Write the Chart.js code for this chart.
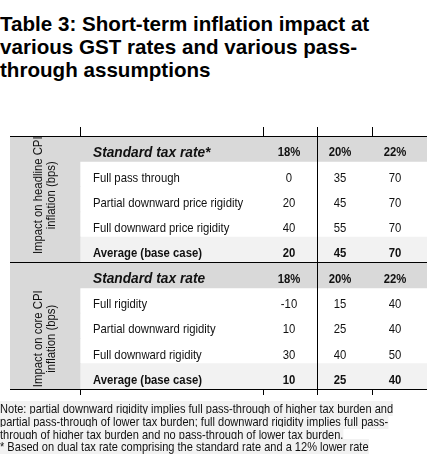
<!DOCTYPE html>
<html lang="en">
<head>
  <meta charset="UTF-8">
  <title>Table 3: Short-term inflation impact</title>
  <script src="https://cdn.jsdelivr.net/npm/chart.js"></script>
  <style>
    body { margin: 0; background: #fff; width: 427px; height: 468px; overflow: hidden; position: relative; }
    .titulo {
      position: absolute; left: 0; top: 12px;
      font: bold 20.6px 'Liberation Sans', Arial, sans-serif; line-height: 23px; color: #000;
    }
    .tabela { position: absolute; left: 0; top: 120px; width: 427px; height: 285px; }
    .nota {
      position: absolute; left: 0; top: 403px; white-space: nowrap;
      transform: scaleX(0.85); transform-origin: 0 0;
      font: 13px 'Liberation Sans', Arial, sans-serif; line-height: 12.8px; color: #111;
    }
    .nota span { background: #f2f2f2; }
  </style>
</head>
<body>
  <div class="titulo">Table 3: Short-term inflation impact at<br>various GST rates and various pass-<br>through assumptions</div>
  <div class="tabela"><canvas id="grafico"></canvas></div>
  <div class="nota"><span>Note: partial downward rigidity implies full pass-through of higher tax burden and<br>partial pass-through of lower tax burden; full downward rigidity implies full pass-<br>through of higher tax burden and no pass-through of lower tax burden.<br>* Based on dual tax rate comprising the standard rate and a 12% lower rate</span></div>

  <script>
    // dados da tabela
    const rates = ['18%', '20%', '22%'];
    const headlineRows = ['Full pass through', 'Partial downward price rigidity', 'Full downward price rigidity', 'Average (base case)'];
    const headlineValues = [[0, 35, 70], [20, 45, 70], [40, 55, 70], [20, 45, 70]];
    const coreRows = ['Full rigidity', 'Partial downward rigidity', 'Full downward rigidity', 'Average (base case)'];
    const coreValues = [[-10, 15, 40], [10, 25, 40], [30, 40, 50], [10, 25, 40]];
    const sectionHeads = ['Standard tax rate*', 'Standard tax rate'];
    const sectionTitles = [['Impact on headline CPI', 'inflation (bps)'], ['Impact on core CPI', 'inflation (bps)']];

    // layout (unidades do eixo x)
    const X_MAX = 417;
    const LABEL_COL = 70;
    const TEXT_X = 83;
    const COL_CENTERS = [279, 330, 385];
    const EDGES = [70, 253, 307, 362];
    const RULE_X = 307;
    const TITLE_SHIFT = [-4, 13];
    const FONT = "'Liberation Sans', Arial, sans-serif";
    const ESTREITO = 0.87; // imita Arial Narrow
    const CINZA = '#d9d9d9';
    const CLARO = '#f2f2f2';

    // monta as linhas: cabecalho, corpo, media
    const linhas = [];
    [[headlineRows, headlineValues], [coreRows, coreValues]].forEach(([nomes, valores], s) => {
      linhas.push({ label: sectionHeads[s], kind: 'head', cells: rates, sec: s });
      nomes.forEach((n, i) => {
        linhas.push({ label: n, kind: i === nomes.length - 1 ? 'avg' : 'body', cells: valores[i].map(String), sec: s });
      });
    });

    function escreve(ctx, txt, px, py, esc = ESTREITO) {
      ctx.save();
      ctx.translate(px, py);
      ctx.scale(esc, 1);
      ctx.fillText(txt, 0, 0);
      ctx.restore();
    }

    const textoCelulas = {
      id: 'textoCelulas',
      afterDraw(chart) {
        const { ctx, scales: { x, y } } = chart;
        ctx.save();
        ctx.fillStyle = '#111';
        ctx.textBaseline = 'middle';
        linhas.forEach((l, i) => {
          const py = y.getPixelForValue(i) + 4;
          const peso = l.kind === 'body' ? '' : 'bold ';
          ctx.textAlign = 'left';
          if (l.kind === 'head') {
            ctx.font = 'italic bold 14px ' + FONT;
            escreve(ctx, l.label, x.getPixelForValue(TEXT_X), py, 0.98);
          } else {
            ctx.font = peso + '13px ' + FONT;
            escreve(ctx, l.label, x.getPixelForValue(TEXT_X), py);
          }
          ctx.font = peso + '13px ' + FONT;
          ctx.textAlign = 'center';
          l.cells.forEach((c, j) => escreve(ctx, c, x.getPixelForValue(COL_CENTERS[j]), py));
        });
        // titulos verticais das secoes
        ctx.font = '13px ' + FONT;
        ctx.textAlign = 'center';
        sectionTitles.forEach((t, s) => {
          const idx = linhas.map((l, i) => l.sec === s ? i : -1).filter(i => i >= 0);
          const cy = (y.getPixelForValue(idx[0]) + y.getPixelForValue(idx[idx.length - 1])) / 2 + TITLE_SHIFT[s];
          const cx = x.getPixelForValue(LABEL_COL / 2);
          ctx.save();
          ctx.translate(cx, cy);
          ctx.rotate(-Math.PI / 2);
          escreve(ctx, t[0], 0, -6.5);
          escreve(ctx, t[1], 0, 6.5);
          ctx.restore();
        });
        ctx.restore();
      }
    };

    const ticksBordas = s => { s.ticks = EDGES.map(v => ({ value: v })); };

    new Chart(document.getElementById('grafico'), {
      type: 'bar',
      data: {
        labels: linhas.map(l => l.label),
        datasets: [
          { data: linhas.map(() => [0, LABEL_COL]), backgroundColor: CINZA },
          { data: linhas.map(l => l.kind === 'head' ? [0, X_MAX] : null), backgroundColor: CINZA },
          { data: linhas.map(l => l.kind === 'avg' ? [LABEL_COL, X_MAX] : null), backgroundColor: CLARO }
        ]
      },
      options: {
        indexAxis: 'y',
        responsive: true,
        maintainAspectRatio: false,
        animation: false,
        events: [],
        layout: { padding: { left: 10, right: 0, top: 7, bottom: 10 } },
        datasets: { bar: { barPercentage: 1, categoryPercentage: 1, grouped: false, borderWidth: 0 } },
        plugins: { legend: { display: false }, tooltip: { enabled: false } },
        scales: {
          y: {
            type: 'category', offset: true,
            ticks: { display: false },
            grid: { offset: true, drawTicks: false, z: 1, color: c => c.index === 5 ? '#000' : 'rgba(0,0,0,0)' },
            border: { display: false }
          },
          x: {
            type: 'linear', position: 'top', min: 0, max: X_MAX,
            afterBuildTicks: ticksBordas,
            ticks: { display: false },
            grid: { tickLength: 9, tickColor: '#000', z: 1, color: c => c.tick && c.tick.value === RULE_X ? '#000' : 'rgba(0,0,0,0)' },
            border: { color: '#000', z: 1 }
          },
          x2: {
            type: 'linear', position: 'bottom', min: 0, max: X_MAX,
            afterBuildTicks: ticksBordas,
            ticks: { display: false },
            grid: { drawOnChartArea: false, tickLength: 6, tickColor: '#000' },
            border: { color: '#000', z: 1 }
          }
        }
      },
      plugins: [textoCelulas]
    });
  </script>
</body>
</html>
